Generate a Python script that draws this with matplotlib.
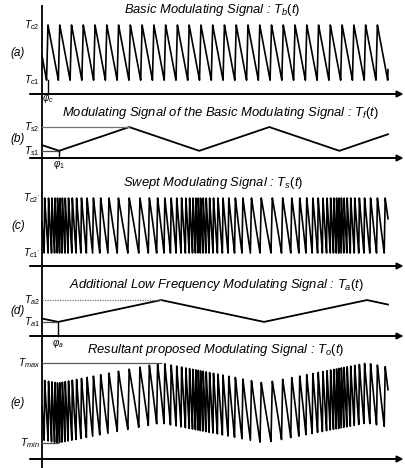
import numpy as np
import matplotlib
matplotlib.use("Agg")
import matplotlib.pyplot as plt

plt.rcParams['font.family'] = ['Liberation Sans', 'DejaVu Sans']
plt.rcParams['mathtext.fontset'] = 'custom'
plt.rcParams['mathtext.rm'] = 'Liberation Sans'
plt.rcParams['mathtext.it'] = 'Liberation Sans:italic'
plt.rcParams['mathtext.sf'] = 'Liberation Sans'

# ---------------- data (normalised time 0..1, levels relative to each baseline) ----
titles = ["Basic Modulating Signal : $T_b(t)$",
          "Modulating Signal of the Basic Modulating Signal : $T_f(t)$",
          "Swept Modulating Signal : $T_s(t)$",
          "Additional Low Frequency Modulating Signal : $T_a(t)$",
          "Resultant proposed Modulating Signal : $T_o(t)$"]
panel_labels = ["(a)", "(b)", "(c)", "(d)", "(e)"]
level_labels = [["$T_{c1}$", "$T_{c2}$"], ["$T_{s1}$", "$T_{s2}$"],
                ["$T_{c1'}$", "$T_{c2'}$"], ["$T_{a1}$", "$T_{a2}$"],
                ["$T_{min}$", "$T_{max}$"]]

t_end = 1.0
# (a) basic sawtooth
Tc1, Tc2 = 0.20, 1.0
P_basic = 0.034
phi_c = 0.0173
rise_frac = 0.12
# (b) triangular period modulation
Ts1, Ts2 = 0.23, 1.0
phi_1 = 0.049
P_f = 0.405
# (c) swept sawtooth
Tc1p, Tc2p = 0.19, 1.0
P_sweep_min, P_sweep_max = 0.0065, 0.0332
# (d) additional low frequency modulation
Ta1, Ta2 = 0.39, 1.0
phi_a = 0.046
P_a = 0.595
# (e) resultant
Tmin, Tmax = 0.167, 1.0
amp_e = 0.625

# ---------------- helpers ----------------
def tri(t, t0, period):
    u = np.mod((t - t0) / period, 1.0)
    return np.where(u < 0.5, 2 * u, 2 * (1 - u))

def saw(phase, r):
    f = np.mod(phase, 1.0)
    return np.where(f < r, f / r, 1 - (f - r) / (1 - r))

t = np.linspace(0, t_end, 40000)
dt = t[1] - t[0]

sig_a = Tc1 + (Tc2 - Tc1) * saw((t - phi_c) / P_basic + rise_frac, rise_frac)
tf_norm = tri(t, phi_1, P_f)
sig_b = Ts1 + (Ts2 - Ts1) * tf_norm
period_c = P_sweep_min + (P_sweep_max - P_sweep_min) * tf_norm
phase_c = np.cumsum(dt / period_c) + 0.5
saw_c = saw(phase_c, rise_frac)
sig_c = Tc1p + (Tc2p - Tc1p) * saw_c
ta_norm = tri(t, phi_a, P_a)
sig_d = Ta1 + (Ta2 - Ta1) * ta_norm
sig_e = Tmin + (Tmax - Tmin - amp_e) * ta_norm + amp_e * saw_c

# ---------------- figure layout ----------------
W, H = 405, 468
fig = plt.figure(figsize=(W / 100, H / 100), dpi=100)
x0_px, x1_px = 42, 388
xlim = ((0 - x0_px) / (x1_px - x0_px), (W - x0_px) / (x1_px - x0_px))
# band top, band bottom, baseline, px per unit
bands = [(5, 100, 94, 69), (100, 170, 158, 31), (170, 275, 266, 68),
         (275, 345, 336, 36), (345, 468, 459, 96)]
title_px = [10, 113, 183, 285, 350]
title_cx = [212, 221, 213, 216, 216]

axes = []
for (top, bot, base, sc) in bands:
    ax = fig.add_axes([0, 1 - bot / H, 1, (bot - top) / H])
    ax.set_xlim(*xlim)
    ax.set_ylim((base - bot) / sc, (base - top) / sc)
    ax.axis('off')
    ax.axvline(0, color='k', lw=1.3)
    ax.annotate('', xy=(1.045, 0), xytext=(-0.035, 0),
                arrowprops=dict(arrowstyle='-|>', color='k', lw=1.4,
                                mutation_scale=9, shrinkA=0, shrinkB=0))
    axes.append(ax)

def px_to_t(px):
    return (px - x0_px) / (x1_px - x0_px)

def place_title(ax, i):
    top, bot, base, sc = bands[i]
    ax.text(px_to_t(title_cx[i]), (base - title_px[i]) / sc, titles[i],
            ha='center', va='center', fontsize=9.4, style='italic', clip_on=False)

def place_labels(ax, i, lo, hi):
    ax.text(-0.006, lo, level_labels[i][0], ha='right', va='center', fontsize=7.5, style='italic')
    ax.text(-0.006, hi, level_labels[i][1], ha='right', va='center', fontsize=7.5, style='italic')
    ax.text(-0.07, (lo + hi) / 2, panel_labels[i], ha='center', va='center',
            fontsize=8.5, style='italic')

lw_sig = 1.2
# (a)
ax = axes[0]
ax.plot(t, sig_a, color='k', lw=lw_sig)
ax.plot([phi_c, phi_c], [0, Tc1], color='k', lw=1.0)
ax.text(phi_c, -0.07, r"$\varphi_c$", ha='center', va='center', fontsize=7)
place_title(ax, 0); place_labels(ax, 0, Tc1, Tc2)
# (b)
ax = axes[1]
ax.plot(t, sig_b, color='k', lw=1.3)
ax.plot([0, phi_1 + P_f / 2], [Ts2, Ts2], color='0.45', lw=0.9)
ax.plot([0, phi_1], [Ts1, Ts1], color='0.3', lw=0.9)
ax.plot([phi_1, phi_1], [0, Ts1], color='k', lw=1.0)
ax.text(phi_1, -0.2, r"$\varphi_1$", ha='center', va='center', fontsize=7)
place_title(ax, 1); place_labels(ax, 1, Ts1, Ts2)
# (c)
ax = axes[2]
ax.plot(t, sig_c, color='k', lw=lw_sig)
place_title(ax, 2); place_labels(ax, 2, Tc1p, Tc2p)
# (d)
ax = axes[3]
ax.plot(t, sig_d, color='k', lw=1.3)
ax.plot([0, phi_a + P_a / 2], [Ta2, Ta2], color='0.45', lw=0.9, ls=(0, (1, 1)))
ax.plot([0, phi_a], [Ta1, Ta1], color='0.3', lw=0.9)
ax.plot([phi_a, phi_a], [0, Ta1], color='k', lw=1.0)
ax.text(phi_a, -0.2, r"$\varphi_a$", ha='center', va='center', fontsize=7)
place_title(ax, 3); place_labels(ax, 3, Ta1, Ta2)
# (e)
ax = axes[4]
ax.plot(t, sig_e, color='k', lw=lw_sig)
ax.plot([0, phi_a + P_a / 2], [Tmax, Tmax], color='0.35', lw=0.9)
ax.plot([0, phi_a], [Tmin, Tmin], color='0.3', lw=0.9)
place_title(ax, 4); place_labels(ax, 4, Tmin, Tmax)

fig.savefig("out.png", dpi=100)
